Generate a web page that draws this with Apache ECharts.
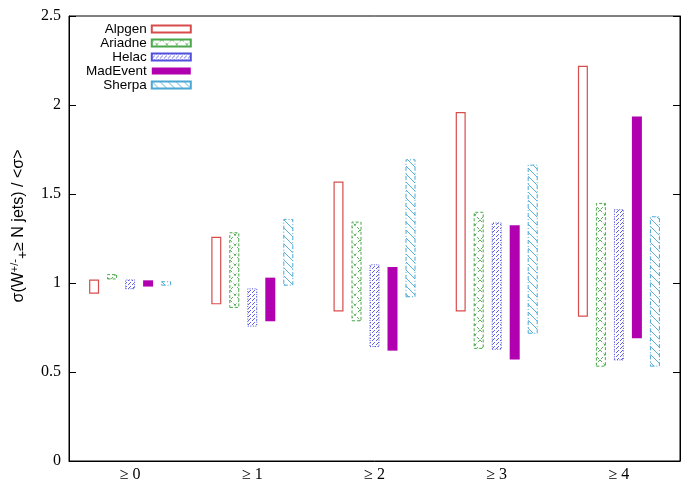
<!DOCTYPE html>
<html>
<head>
<meta charset="utf-8">
<script src="https://cdn.jsdelivr.net/npm/echarts@6/dist/echarts.min.js"></script>
<style>
  html, body { margin: 0; padding: 0; background: #fff; }
  #chart { width: 698px; height: 488px; }
</style>
</head>
<body>
<div id="chart"></div>
<script>
// categories (x axis)
const categories = ['≥ 0', '≥ 1', '≥ 2', '≥ 3', '≥ 4'];
const generators = ['Alpgen', 'Ariadne', 'Helac', 'MadEvent', 'Sherpa'];

// lower / upper edge of each band, per generator
const alpgenLow = [0.94, 0.88, 0.84, 0.84, 0.81];
const alpgenHigh = [1.02, 1.26, 1.57, 1.96, 2.22];
const ariadneLow = [1.02, 0.86, 0.785, 0.63, 0.53];
const ariadneHigh = [1.05, 1.285, 1.345, 1.40, 1.45];
const helacLow = [0.965, 0.755, 0.64, 0.625, 0.565];
const helacHigh = [1.02, 0.97, 1.105, 1.34, 1.415];
const madeventLow = [0.98, 0.785, 0.62, 0.57, 0.69];
const madeventHigh = [1.015, 1.03, 1.09, 1.325, 1.935];
const sherpaLow = [0.985, 0.985, 0.92, 0.715, 0.53];
const sherpaHigh = [1.01, 1.36, 1.695, 1.665, 1.375];

const lows = [alpgenLow, ariadneLow, helacLow, madeventLow, sherpaLow];
const highs = [alpgenHigh, ariadneHigh, helacHigh, madeventHigh, sherpaHigh];

// hatch patterns
function makePattern(size, draw) {
    const c = document.createElement('canvas');
    c.width = size; c.height = size;
    const ctx = c.getContext('2d');
    draw(ctx, size);
    return { image: c, repeat: 'repeat' };
}
const crossPat = makePattern(10, (ctx, s) => {
    ctx.strokeStyle = '#5aae5a';
    ctx.lineWidth = 1;
    ctx.setLineDash([3, 2]);
    ctx.beginPath();
    ctx.moveTo(0, 0); ctx.lineTo(s, s);
    ctx.moveTo(s, 0); ctx.lineTo(0, s);
    ctx.stroke();
});
const dotPat = makePattern(4, (ctx, s) => {
    ctx.fillStyle = '#6060e0';
    ctx.fillRect(0, 0, 1, 1);
    ctx.fillRect(2, 2, 1, 1);
    ctx.fillRect(1, 3, 1, 1);
});
const slashPat = makePattern(8, (ctx, s) => {
    ctx.strokeStyle = '#5ab0d8';
    ctx.lineWidth = 1;
    ctx.beginPath();
    ctx.moveTo(0, 0); ctx.lineTo(s, s);
    ctx.stroke();
});

const styles = [
    { color: '#fff', borderColor: '#d94c4c', borderWidth: 1.2, borderType: 'solid' },
    { color: crossPat, borderColor: '#4aa84a', borderWidth: 1, borderType: [3, 2] },
    { color: dotPat, borderColor: '#5050dd', borderWidth: 1, borderType: [1, 1.5] },
    { color: '#b000b0', borderColor: '#b000b0', borderWidth: 0, borderType: 'solid' },
    { color: slashPat, borderColor: '#4aa8d4', borderWidth: 1, borderType: [4, 2, 1, 2] }
];

const series = [];
generators.forEach((name, i) => {
    series.push({
        name: name + '_base',
        type: 'bar',
        stack: 's' + i,
        barWidth: 10,
        barGap: '80%',
        silent: true,
        itemStyle: { color: 'transparent' },
        data: lows[i]
    });
    series.push({
        name: name,
        type: 'bar',
        stack: 's' + i,
        barWidth: 10,
        barGap: '80%',
        itemStyle: styles[i],
        data: highs[i].map((h, k) => +(h - lows[i][k]).toFixed(4))
    });
});

const myChart = echarts.init(document.getElementById('chart'));
const tickLabel = { fontFamily: 'Liberation Serif', fontSize: 16, color: '#000' };
const yBase = {
    type: 'value',
    min: 0,
    max: 2.5,
    interval: 0.5,
    splitLine: { show: false },
    axisLine: { show: true, lineStyle: { color: '#000' } },
    axisTick: { show: true, inside: true, length: 7, lineStyle: { color: '#000' } }
};
const option = {
    animation: false,
    grid: { left: 69, right: 18, top: 16, bottom: 27, show: true, borderColor: '#000', borderWidth: 1 },
    legend: {
        data: generators,
        orient: 'vertical',
        align: 'right',
        left: 86,
        top: 22,
        padding: 0,
        icon: 'rect',
        itemWidth: 39,
        itemHeight: 7,
        itemGap: 0,
        textStyle: { fontFamily: 'Liberation Sans', fontSize: 13.5, color: '#000' }
    },
    xAxis: {
        type: 'category',
        data: categories,
        axisLine: { show: true, lineStyle: { color: '#000' } },
        axisTick: { show: false },
        axisLabel: Object.assign({ margin: 6 }, tickLabel)
    },
    yAxis: [
        Object.assign({}, yBase, { position: 'left', axisLabel: Object.assign({ margin: 8 }, tickLabel) }),
        Object.assign({}, yBase, { position: 'right', axisLabel: { show: false } })
    ],
    graphic: [{
        type: 'text',
        x: 19,
        y: 226,
        rotation: Math.PI / 2,
        style: {
            text: '{n|σ(W}{sup|+/-}{sub|+}{n|≥ N jets) / <σ>}',
            align: 'center',
            verticalAlign: 'middle',
            rich: {
                n: { fontFamily: 'Liberation Sans', fontSize: 16, fill: '#000' },
                sup: { fontFamily: 'Liberation Sans', fontSize: 11, fill: '#000', padding: [0, 0, 9, 0] },
                sub: { fontFamily: 'Liberation Sans', fontSize: 14, fill: '#000', padding: [9, 0, 0, 0] }
            }
        }
    }],
    series: series
};
myChart.setOption(option);
</script>
</body>
</html>
